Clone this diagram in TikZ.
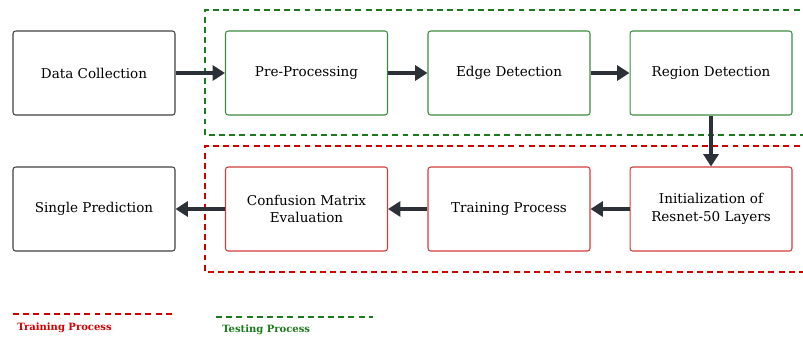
\documentclass[tikz,border=0pt]{standalone}
\usepackage{fontspec}
\setmainfont{DejaVu Serif}
\usetikzlibrary{arrows.meta}
\definecolor{arrowgrey}{HTML}{2B3137}
\definecolor{boxgreen}{HTML}{3C8C3C}
\definecolor{boxred}{HTML}{D23A3A}
\definecolor{dashgreen}{HTML}{1B7A1B}
\definecolor{dashred}{HTML}{D00000}

\begin{document}
\begin{tikzpicture}[x=0.02cm, y=-0.02cm,
    box/.style={draw, rounded corners=1.5pt, line width=0.6pt, minimum width=3.24cm,
        minimum height=1.68cm, align=center, font=\fontsize{7.7}{10}\selectfont},
    plainbox/.style={box, draw=black!75},
    testbox/.style={box, draw=boxgreen},
    trainbox/.style={box, draw=boxred},
    flow/.style={line width=2.4pt, arrowgrey, -{Triangle[length=7pt, width=8.5pt]}},
    group/.style={dashed, dash pattern=on 3.4pt off 2.4pt, line width=0.9pt},
    legend/.style={font=\fontsize{5.7}{7}\selectfont\bfseries, anchor=west, inner sep=0pt}]
    \useasboundingbox (0,0) rectangle (803,338);

    \draw[group, dashgreen] (820,10) -| (205,135) -- (820,135);
    \draw[group, dashred] (820,146) -| (205,272) -- (820,272);

    \node[plainbox] (dc) at (94,73) {Data Collection};
    \node[testbox] (pp) at (306.5,73) {Pre-Processing};
    \node[testbox] (ed) at (509,73) {Edge Detection};
    \node[testbox] (rd) at (711,73) {Region Detection};
    \node[plainbox] (sp) at (94,209) {Single Prediction};
    \node[trainbox] (cm) at (306.5,209) {Confusion Matrix\\Evaluation};
    \node[trainbox] (tp) at (509,209) {Training Process};
    \node[trainbox] (ir) at (711,209) {Initialization of\\Resnet-50 Layers};

    \draw[flow] (dc) -- (pp);
    \draw[flow] (pp) -- (ed);
    \draw[flow] (ed) -- (rd);
    \draw[flow] (rd) -- (ir);
    \draw[flow] (ir) -- (tp);
    \draw[flow] (tp) -- (cm);
    \draw[flow] (cm) -- (sp);

    \draw[group, dashred] (13,314) coordinate (trl) -- (175,314);
    \node[legend, dashred] (trtext) at (17,328) {Training Process};
    \draw[group, dashgreen] (216,317) coordinate (tsl) -- (373,317);
    \node[legend, dashgreen] (tstext) at (222,330) {Testing Process};
\end{tikzpicture}
\end{document}
